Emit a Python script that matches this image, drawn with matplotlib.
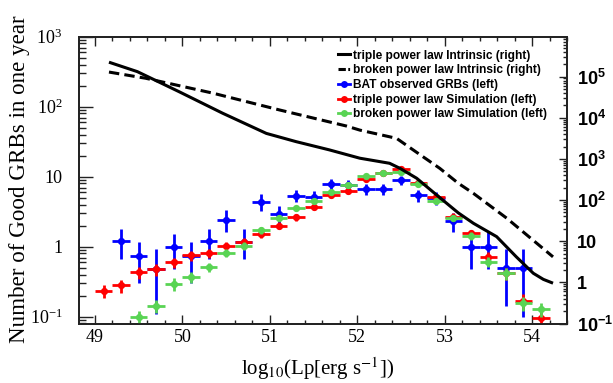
import matplotlib
matplotlib.use('Agg')
import matplotlib.pyplot as plt
from matplotlib.lines import Line2D
from matplotlib.ticker import FixedLocator, FixedFormatter, LogLocator, NullFormatter, MultipleLocator
import numpy as np

# ---------------- data ----------------
x_red = [49.1, 49.3, 49.5, 49.7, 49.9, 50.1, 50.3, 50.5, 50.7, 50.9, 51.1, 51.3, 51.5,
         51.7, 51.9, 52.1, 52.3, 52.5, 52.7, 52.9, 53.1, 53.3, 53.5, 53.7, 53.9, 54.1]
y_red = [0.235, 0.28, 0.43, 0.475, 0.60, 0.75, 0.80, 1.01, 1.17, 1.5, 2.0, 2.63, 3.73,
         5.5, 6.3, 9.2, 11.2, 12.8, 8.05, 5.2, 2.7, 1.55, 0.72, 0.42, 0.17, 0.095]
e_red = [0.05, 0.06, 0.08, 0.09, 0.10, 0.12, 0.12, 0.14, 0.15, 0.18, 0.22, 0.27, 0.35,
         0.5, 0.55, 0.75, 0.9, 1.0, 0.7, 0.5, 0.3, 0.2, 0.11, 0.08, 0.04, 0.022]

x_green = [49.5, 49.7, 49.9, 50.1, 50.3, 50.5, 50.7, 50.9, 51.1, 51.3, 51.5, 51.7,
           51.9, 52.1, 52.3, 52.5, 52.7, 52.9, 53.1, 53.3, 53.5, 53.7, 53.9, 54.1]
y_green = [0.098, 0.144, 0.296, 0.37, 0.51, 0.82, 1.03, 1.73, 2.55, 3.54, 4.5, 6.1,
           7.6, 10.2, 11.4, 11.8, 7.8, 4.5, 2.6, 1.42, 0.61, 0.42, 0.155, 0.129]
e_green = [0.023, 0.03, 0.06, 0.07, 0.08, 0.11, 0.13, 0.19, 0.25, 0.3, 0.4, 0.5,
           0.6, 0.75, 0.85, 0.9, 0.65, 0.4, 0.28, 0.18, 0.1, 0.08, 0.035, 0.03]

x_blue = [49.3, 49.5, 49.7, 49.9, 50.1, 50.3, 50.5, 50.7, 50.9, 51.1, 51.3, 51.5, 51.7,
          51.9, 52.1, 52.3, 52.5, 52.7, 52.9, 53.1, 53.3, 53.5, 53.7, 53.9]
y_blue = [1.22, 0.74, 0.475, 0.98, 0.74, 1.22, 2.4, 1.18, 4.4, 2.9, 5.35, 5.2, 7.9,
          7.6, 6.7, 6.6, 9.0, 5.4, 4.9, 2.3, 0.98, 0.98, 0.49, 0.49]
lo_blue = [0.66, 0.30, 0.11, 0.475, 0.30, 0.66, 1.64, 0.66, 3.24, 2.0, 4.4, 4.2, 6.5,
           6.3, 5.5, 5.5, 7.6, 4.4, 3.9, 1.6, 0.475, 0.475, 0.14, 0.10]
hi_blue = [1.77, 1.18, 0.93, 1.5, 1.18, 1.77, 3.3, 1.77, 5.6, 3.8, 6.5, 6.3, 9.3,
           8.9, 7.9, 7.8, 10.4, 6.5, 6.0, 3.0, 1.6, 1.6, 0.93, 0.93]

x_tpl = [49.16, 49.485, 49.96, 50.46, 50.96, 51.30, 51.68, 52.03, 52.37, 52.49, 52.68,
         52.91, 53.155, 53.33, 53.595, 53.82, 54.015, 54.13, 54.24]
y_tpl = [224000, 132000, 43200, 12900, 4170, 2630, 1660, 1040, 783, 589, 339,
         132, 49, 27.2, 12.9, 4.17, 1.66, 1.18, 0.955]

x_bpl = [49.16, 49.58, 50.345, 51.11, 51.875, 52.03, 52.45, 52.72, 52.945, 53.155,
         53.33, 53.71, 54.24]
y_bpl = [129000, 91200, 39800, 15500, 6310, 5010, 3160, 1260, 589, 257, 145, 36.3, 4.17]

left_ticks = [0.1, 1, 10, 100, 1000]
left_labels = [r'$\mathdefault{10^{-1}}$', '1', '10', r'$\mathdefault{10^{2}}$', r'$\mathdefault{10^{3}}$']
right_ticks = [0.1, 1, 10, 100, 1e3, 1e4, 1e5]
right_labels = [r'$\mathdefault{10^{-1}}$', '1', '10', r'$\mathdefault{10^{2}}$',
                r'$\mathdefault{10^{3}}$', r'$\mathdefault{10^{4}}$', r'$\mathdefault{10^{5}}$']
x_ticks = [49, 50, 51, 52, 53, 54]

legend_labels = ['triple power law Intrinsic (right)', 'broken power law Intrinsic (right)',
                 'BAT observed GRBs (left)', 'triple power law Simulation (left)',
                 'broken power law Simulation (left)']

# ---------------- style ----------------
plt.rcParams['font.family'] = ['Liberation Serif', 'DejaVu Serif']
plt.rcParams['mathtext.fontset'] = 'stix'

BLUE = '#0000ff'
RED = '#ff0000'
GREEN = '#59d454'

W, H = 613, 383
fig = plt.figure(figsize=(W / 100, H / 100), dpi=100)
L, R, T, B = 79, 567, 36.7, 323.5
ax = fig.add_axes([L / W, 1 - B / H, (R - L) / W, (B - T) / H])

ax.set_xlim(48.817, 54.40)
ax.set_yscale('log')
ax.set_ylim(0.08, 1000)

ekw = dict(fmt='o', ms=5.2, elinewidth=2.0, capsize=0, mew=0)
xe = 0.1
ax.errorbar(x_blue, y_blue, xerr=xe,
            yerr=[np.array(y_blue) - np.array(lo_blue), np.array(hi_blue) - np.array(y_blue)],
            color=BLUE, zorder=3, **ekw)
ax.errorbar(x_red, y_red, xerr=xe, yerr=e_red, color=RED, zorder=4, **ekw)
ax.errorbar(x_green, y_green, xerr=xe, yerr=e_green, color=GREEN, zorder=5, **ekw)

ax.yaxis.set_major_locator(FixedLocator(left_ticks))
ax.yaxis.set_major_formatter(FixedFormatter(left_labels))
ax.yaxis.set_minor_locator(LogLocator(base=10, subs=np.arange(2, 10)))
ax.yaxis.set_minor_formatter(NullFormatter())
ax.xaxis.set_major_locator(FixedLocator(x_ticks))
ax.xaxis.set_major_formatter(FixedFormatter([str(v) for v in x_ticks]))
ax.xaxis.set_minor_locator(MultipleLocator(0.2))

ax.tick_params(axis='y', which='major', direction='in', length=10, width=1.0,
               labelsize=13, pad=12, color='#222222')
ax.tick_params(axis='y', which='minor', direction='in', length=5, width=1.0, color='#222222')
ax.tick_params(axis='x', which='major', direction='in', length=6.5, width=1.0,
               labelsize=13, pad=4, top=True, color='#222222')
ax.tick_params(axis='x', which='minor', direction='in', length=3.2, width=1.0,
               top=True, color='#222222')
for s in ax.spines.values():
    s.set_linewidth(1.3)
    s.set_color('#222222')

ax2 = ax.twinx()
ax2.set_yscale('log')
ax2.set_ylim(0.1, 10 ** 5.97)
ax2.plot(x_tpl, y_tpl, color='black', lw=2.2, solid_capstyle='butt', zorder=6)
ax2.plot(x_bpl, y_bpl, color='black', lw=2.2, dashes=(3.4, 1.7), zorder=6)
ax2.yaxis.set_major_locator(FixedLocator(right_ticks))
ax2.yaxis.set_major_formatter(FixedFormatter(right_labels))
ax2.yaxis.set_minor_locator(LogLocator(base=10, subs=np.arange(2, 10)))
ax2.yaxis.set_minor_formatter(NullFormatter())
ax2.tick_params(axis='y', which='major', direction='in', length=6, width=1.0, pad=7,
                color='#222222')
ax2.tick_params(axis='y', which='minor', direction='in', length=3.2, width=1.0,
                color='#222222')
for lab in ax2.get_yticklabels():
    lab.set_fontfamily('Liberation Sans')
    lab.set_fontweight('bold')
    lab.set_fontsize(13)
for s in ax2.spines.values():
    s.set_linewidth(1.3)
    s.set_color('#222222')

handles = [
    Line2D([], [], color='black', lw=2.2),
    Line2D([], [], color='black', lw=2.2, dashes=(2.4, 0.8, 0.6, 0.8)),
    Line2D([], [], color=BLUE, lw=2.0, marker='o', ms=5, mew=0),
    Line2D([], [], color=RED, lw=2.0, marker='o', ms=5, mew=0),
    Line2D([], [], color=GREEN, lw=2.0, marker='o', ms=5, mew=0),
]
fig.legend(handles, legend_labels, loc='upper left', bbox_to_anchor=(338 / W, 1 - 49.5 / H),
           frameon=False, prop=dict(family='Liberation Sans', weight='bold', size=8.6),
           handlelength=1.0, handletextpad=0.25, labelspacing=0.23,
           borderpad=0, borderaxespad=0)

fig.text(20 / W, 1 - 179 / H, 'Number of Good GRBs in one year', rotation=90,
         ha='center', va='center', fontsize=16.6)
fig.text(318 / W, 1 - 369 / H, r'log$_{10}$(Lp[erg s$^{-1}$])', ha='center', va='center',
         fontsize=15)

fig.savefig('out.png', dpi=100)
